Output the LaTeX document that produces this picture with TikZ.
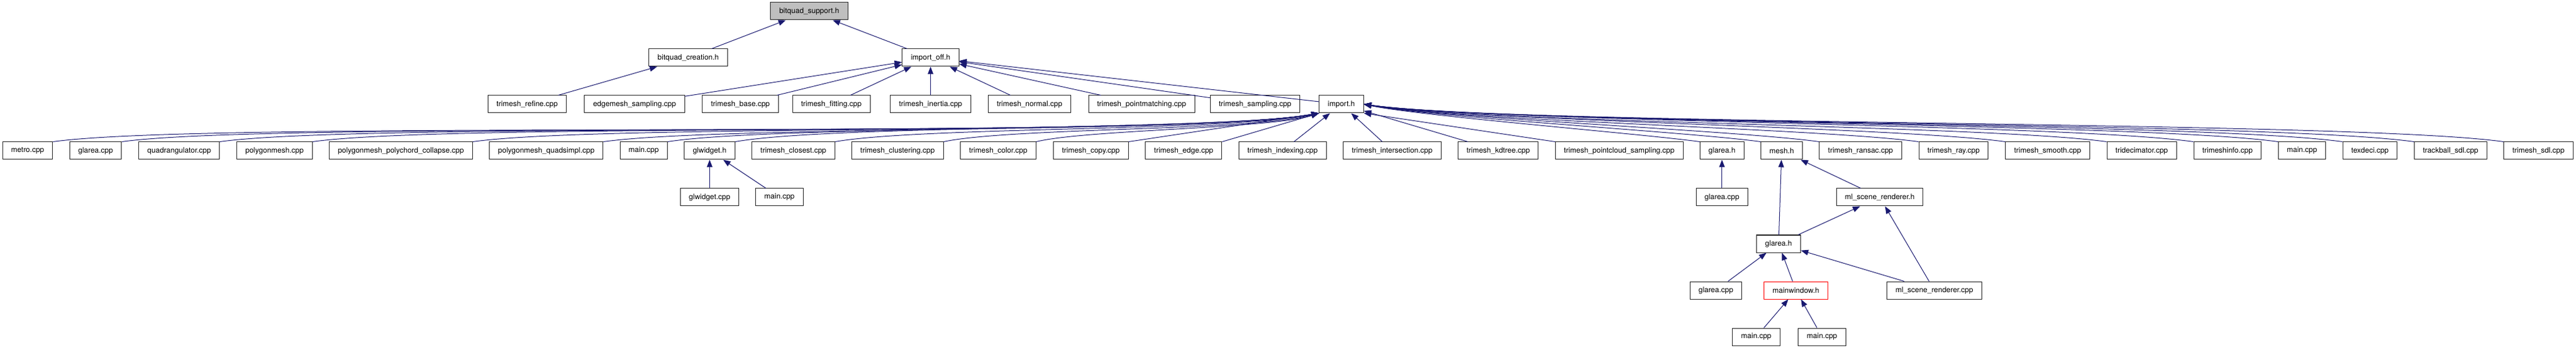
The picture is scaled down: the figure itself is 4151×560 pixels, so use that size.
\documentclass[tikz,border=0pt]{standalone}
\usepackage{fontspec}
\setmainfont{TeX Gyre Heros}
\usetikzlibrary{arrows.meta}
\definecolor{incblue}{HTML}{191970}
\definecolor{rootgray}{HTML}{BFBFBF}

\begin{document}
\begin{tikzpicture}[x=1pt, y=1pt,
    file/.style={draw=black!85, line width=1pt, fill=white, minimum height=28pt,
      inner xsep=13.8pt, inner ysep=0pt, font=\fontsize{12}{14}\selectfont},
    dep/.style={incblue, line width=1pt, -{Triangle[length=12pt, width=9pt]}}]
  \useasboundingbox (0,0) rectangle (4151,560);

  % Topo
  \node[file, fill=rootgray] (sup) at (1304,542) {bitquad\_support.h};
  \node[file] (cre) at (1109,467) {bitquad\_creation.h};
  \node[file] (ioff) at (1499.5,467) {import\_off.h};

  % Nivel 3
  \node[file] (refine) at (849.5,392) {trimesh\_refine.cpp};
  \node[file] (esamp) at (1022.5,392) {edgemesh\_sampling.cpp};
  \node[file] (base) at (1193,392) {trimesh\_base.cpp};
  \node[file] (fit) at (1339.5,392) {trimesh\_fitting.cpp};
  \node[file] (inert) at (1499.5,392) {trimesh\_inertia.cpp};
  \node[file] (norm) at (1659,392) {trimesh\_normal.cpp};
  \node[file] (pmatch) at (1839.5,392) {trimesh\_pointmatching.cpp};
  \node[file] (tsamp) at (2022.5,392) {trimesh\_sampling.cpp};
  \node[file] (imp) at (2161.5,392) {import.h};

  % Nivel 4
  \node[file] (metro) at (44.5,317) {metro.cpp};
  \node[file] (glacppA) at (154.1,317) {glarea.cpp};
  \node[file] (quad) at (288.7,317) {quadrangulator.cpp};
  \node[file] (pmesh) at (442.3,317) {polygonmesh.cpp};
  \node[file] (ppcc) at (646,317) {polygonmesh\_polychord\_collapse.cpp};
  \node[file] (pqs) at (880.3,317) {polygonmesh\_quadsimpl.cpp};
  \node[file] (mainA) at (1037.2,317) {main.cpp};
  \node[file] (glwh) at (1143.5,317) {glwidget.h};
  \node[file] (closest) at (1278.4,317) {trimesh\_closest.cpp};
  \node[file] (cluster) at (1446.3,317) {trimesh\_clustering.cpp};
  \node[file] (color) at (1608.5,317) {trimesh\_color.cpp};
  \node[file] (copy) at (1757.8,317) {trimesh\_copy.cpp};
  \node[file] (tedge) at (1907.4,317) {trimesh\_edge.cpp};
  \node[file] (index) at (2066.7,317) {trimesh\_indexing.cpp};
  \node[file] (inter) at (2243.3,317) {trimesh\_intersection.cpp};
  \node[file] (kdtree) at (2414.2,317) {trimesh\_kdtree.cpp};
  \node[file] (pcs) at (2609.2,317) {trimesh\_pointcloud\_sampling.cpp};
  \node[file] (glah) at (2774.8,317) {glarea.h};
  \node[file] (meshh) at (2871,317) {mesh.h};
  \node[file] (ransac) at (2998,317) {trimesh\_ransac.cpp};
  \node[file] (ray) at (3147.9,317) {trimesh\_ray.cpp};
  \node[file] (smooth) at (3299.5,317) {trimesh\_smooth.cpp};
  \node[file] (tridec) at (3451.1,317) {tridecimator.cpp};
  \node[file] (tinfo) at (3589.4,317) {trimeshinfo.cpp};
  \node[file] (mainB) at (3709.4,317) {main.cpp};
  \node[file] (texdeci) at (3819,317) {texdeci.cpp};
  \node[file] (trackball) at (3948.9,317) {trackball\_sdl.cpp};
  \node[file] (tsdl) at (4090.5,317) {trimesh\_sdl.cpp};

  % Niveis 5 a 8
  \node[file] (glwcpp) at (1143.5,242) {glwidget.cpp};
  \node[file] (mainC) at (1256,242) {main.cpp};
  \node[file] (glacppB) at (2774.8,242) {glarea.cpp};
  \node[file] (mlsh) at (3029,242) {ml\_scene\_renderer.h};
  \node[file] (glahB) at (2866,167) {glarea.h};
  \node[file] (glacppC) at (2765,92) {glarea.cpp};
  \node[file, draw=red] (mwin) at (2894,92) {mainwindow.h};
  \node[file] (mlscpp) at (3117,92) {ml\_scene\_renderer.cpp};
  \node[file] (mainD) at (2830,17) {main.cpp};
  \node[file] (mainE) at (2936,17) {main.cpp};

  % Ligacoes de cima
  \draw[dep] (cre) -- (sup);
  \draw[dep] (ioff) -- (sup);
  \draw[dep] (refine) -- (cre);
  \draw[dep] (esamp) -- (ioff);
  \draw[dep] (base) -- (ioff);
  \draw[dep] (fit) -- (ioff);
  \draw[dep] (inert) -- (ioff);
  \draw[dep] (norm) -- (ioff);
  \draw[dep] (pmatch) -- (ioff);
  \draw[dep] (tsamp) -- (ioff);
  \draw[dep] (imp) -- (ioff);

  % Ligacoes para import.h
  \draw[dep] (metro.north east) .. controls +(8:260) and +(190:260) .. (imp.south west);
  \draw[dep] (glacppA.north east) .. controls +(8:250) and +(190:250) .. (imp.south west);
  \draw[dep] (quad.north east) .. controls +(8:240) and +(190:240) .. (imp.south west);
  \draw[dep] (pmesh.north east) .. controls +(8:230) and +(190:230) .. (imp.south west);
  \draw[dep] (ppcc.north east) .. controls +(8:210) and +(190:210) .. (imp.south west);
  \draw[dep] (pqs.north east) .. controls +(8:190) and +(190:190) .. (imp.south west);
  \draw[dep] (mainA.north east) .. controls +(9:170) and +(190:170) .. (imp.south west);
  \draw[dep] (glwh.north east) .. controls +(10:160) and +(190:160) .. (imp.south west);
  \draw[dep] (closest.north east) .. controls +(10:140) and +(192:140) .. (imp.south west);
  \draw[dep] (cluster.north east) .. controls +(12:110) and +(195:110) .. (imp.south west);
  \draw[dep] (color.north east) .. controls +(14:80) and +(198:80) .. (imp.south west);
  \draw[dep] (copy.north east) -- (imp.south west);
  \draw[dep] (tedge.north east) -- (imp.south west);
  \draw[dep] (index) -- (imp);
  \draw[dep] (inter) -- (imp);
  \draw[dep] (kdtree) -- (imp);
  \draw[dep] (pcs.north west) -- (imp.south east);
  \draw[dep] (glah.north west) .. controls +(172:90) and +(-12:90) .. (imp.east);
  \draw[dep] (meshh.north west) .. controls +(172:110) and +(-11:110) .. (imp.east);
  \draw[dep] (ransac.north west) .. controls +(172:130) and +(-10:130) .. (imp.east);
  \draw[dep] (ray.north west) .. controls +(172:150) and +(-10:150) .. (imp.east);
  \draw[dep] (smooth.north west) .. controls +(172:170) and +(-9:170) .. (imp.east);
  \draw[dep] (tridec.north west) .. controls +(172:190) and +(-9:190) .. (imp.east);
  \draw[dep] (tinfo.north west) .. controls +(172:210) and +(-8:210) .. (imp.east);
  \draw[dep] (mainB.north west) .. controls +(172:220) and +(-8:220) .. (imp.east);
  \draw[dep] (texdeci.north west) .. controls +(172:230) and +(-8:230) .. (imp.east);
  \draw[dep] (trackball.north west) .. controls +(172:240) and +(-8:240) .. (imp.east);
  \draw[dep] (tsdl.north west) .. controls +(172:250) and +(-8:250) .. (imp.east);

  % Ligacoes de baixo
  \draw[dep] (glwcpp) -- (glwh);
  \draw[dep] (mainC) -- (glwh);
  \draw[dep] (glacppB) -- (glah);
  \draw[dep] (mlsh) -- (meshh);
  \draw[dep] (glahB) -- (meshh);
  \draw[dep] (glahB) -- (mlsh);
  \draw[dep] (mlscpp) -- (mlsh);
  \draw[dep] (mlscpp) -- (glahB);
  \draw[dep] (glacppC) -- (glahB);
  \draw[dep] (mwin) -- (glahB);
  \draw[dep] (mainD) -- (mwin);
  \draw[dep] (mainE) -- (mwin);
\end{tikzpicture}
\end{document}
